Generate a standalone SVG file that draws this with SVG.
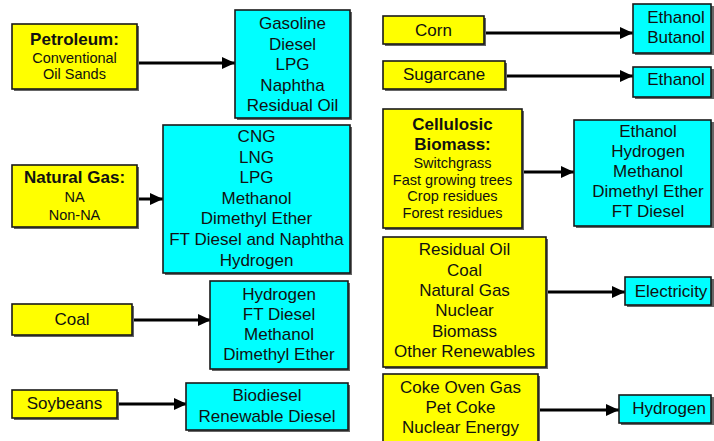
<svg xmlns="http://www.w3.org/2000/svg" width="714" height="441" viewBox="0 0 714 441">
<style>
text{font-family:"Liberation Sans",Arial,sans-serif;fill:#111;text-anchor:middle}
.t{font-size:17px}
.b{font-size:17px;font-weight:bold}
.s{font-size:14.5px}
.src{fill:#ffff00;stroke:#1a1a1a;stroke-width:1.6}
.dst{fill:#00ffff;stroke:#1a1a1a;stroke-width:1.6}
.sh{fill:#666}
.c{stroke:#000;stroke-width:3;fill:none}
</style>
<defs>
<marker id="ah" markerUnits="userSpaceOnUse" markerWidth="14" markerHeight="13" refX="13" refY="6.5" orient="auto">
<path d="M0,0.5 L13,6.5 L0,12.5 z" fill="#000"/>
</marker>
</defs>
<rect width="714" height="441" fill="#fff"/>

<g id="connectors">
<path class="c" d="M137,63 H235" marker-end="url(#ah)"/>
<path class="c" d="M137,199 H163" marker-end="url(#ah)"/>
<path class="c" d="M132,320 H211" marker-end="url(#ah)"/>
<path class="c" d="M117,404 H187" marker-end="url(#ah)"/>
<path class="c" d="M484,33 H633" marker-end="url(#ah)"/>
<path class="c" d="M505,76 H633" marker-end="url(#ah)"/>
<path class="c" d="M522,172 H574" marker-end="url(#ah)"/>
<path class="c" d="M546,292 H625" marker-end="url(#ah)"/>
<path class="c" d="M538,410 H619" marker-end="url(#ah)"/>
</g>

<g id="petroleum">
<rect class="sh" x="14" y="26" width="125" height="65"/>
<rect class="src" x="12" y="24" width="125" height="65"/>
<text class="b" x="74.5" y="45">Petroleum:</text>
<text class="s" x="74.5" y="63">Conventional</text>
<text class="s" x="74.5" y="79">Oil Sands</text>
</g>
<g id="petroleum-products">
<rect class="sh" x="237" y="12" width="115" height="108"/>
<rect class="dst" x="235" y="10" width="115" height="108"/>
<text class="t" x="292.5" y="29">Gasoline</text>
<text class="t" x="292.5" y="49.5">Diesel</text>
<text class="t" x="292.5" y="70">LPG</text>
<text class="t" x="292.5" y="90.5">Naphtha</text>
<text class="t" x="292.5" y="111">Residual Oil</text>
</g>

<g id="natural-gas">
<rect class="sh" x="14" y="167" width="125" height="62"/>
<rect class="src" x="12" y="165" width="125" height="62"/>
<text class="b" x="74.5" y="183">Natural Gas:</text>
<text class="s" x="74.5" y="202">NA</text>
<text class="s" x="74.5" y="220">Non-NA</text>
</g>
<g id="natural-gas-products">
<rect class="sh" x="165" y="127" width="187" height="148"/>
<rect class="dst" x="163" y="125" width="187" height="148"/>
<text class="t" x="256.5" y="142">CNG</text>
<text class="t" x="256.5" y="162.6">LNG</text>
<text class="t" x="256.5" y="183.2">LPG</text>
<text class="t" x="256.5" y="203.8">Methanol</text>
<text class="t" x="256.5" y="224.4">Dimethyl Ether</text>
<text class="t" x="256.5" y="245">FT Diesel and Naphtha</text>
<text class="t" x="256.5" y="265.6">Hydrogen</text>
</g>

<g id="coal">
<rect class="sh" x="14" y="306" width="120" height="31"/>
<rect class="src" x="12" y="304" width="120" height="31"/>
<text class="t" x="72" y="325">Coal</text>
</g>
<g id="coal-products">
<rect class="sh" x="212" y="283" width="138" height="88"/>
<rect class="dst" x="210" y="281" width="138" height="88"/>
<text class="t" x="279" y="300">Hydrogen</text>
<text class="t" x="279" y="320">FT Diesel</text>
<text class="t" x="279" y="340">Methanol</text>
<text class="t" x="279" y="360">Dimethyl Ether</text>
</g>

<g id="soybeans">
<rect class="sh" x="14" y="392" width="105" height="28"/>
<rect class="src" x="12" y="390" width="105" height="28"/>
<text class="t" x="64.5" y="409">Soybeans</text>
</g>
<g id="soybean-products">
<rect class="sh" x="188" y="385" width="162" height="47"/>
<rect class="dst" x="186" y="383" width="162" height="47"/>
<text class="t" x="267" y="401">Biodiesel</text>
<text class="t" x="267" y="422">Renewable Diesel</text>
</g>

<g id="corn">
<rect class="sh" x="385" y="18" width="101" height="28"/>
<rect class="src" x="383" y="16" width="101" height="28"/>
<text class="t" x="433.5" y="36">Corn</text>
</g>
<g id="corn-products">
<rect class="sh" x="635" y="6" width="79" height="49"/>
<rect class="dst" x="633" y="4" width="78" height="49"/>
<text class="t" x="676" y="23">Ethanol</text>
<text class="t" x="676" y="43">Butanol</text>
</g>

<g id="sugarcane">
<rect class="sh" x="385" y="63" width="122" height="28"/>
<rect class="src" x="383" y="61" width="122" height="28"/>
<text class="t" x="444" y="80">Sugarcane</text>
</g>
<g id="sugarcane-products">
<rect class="sh" x="635" y="69" width="79" height="30"/>
<rect class="dst" x="633" y="67" width="78" height="30"/>
<text class="t" x="676" y="85">Ethanol</text>
</g>

<g id="cellulosic-biomass">
<rect class="sh" x="385" y="111" width="139" height="119"/>
<rect class="src" x="383" y="109" width="139" height="119"/>
<text class="b" x="452.5" y="130">Cellulosic</text>
<text class="b" x="452.5" y="150">Biomass:</text>
<text class="s" x="452.5" y="168">Switchgrass</text>
<text class="s" x="452.5" y="185">Fast growing trees</text>
<text class="s" x="452.5" y="201">Crop residues</text>
<text class="s" x="452.5" y="218">Forest residues</text>
</g>
<g id="cellulosic-products">
<rect class="sh" x="576" y="122" width="138" height="106"/>
<rect class="dst" x="574" y="120" width="137" height="106"/>
<text class="t" x="648" y="137">Ethanol</text>
<text class="t" x="648" y="157">Hydrogen</text>
<text class="t" x="648" y="177">Methanol</text>
<text class="t" x="648" y="197">Dimethyl Ether</text>
<text class="t" x="648" y="217">FT Diesel</text>
</g>

<g id="power-sources">
<rect class="sh" x="385" y="239" width="163" height="130"/>
<rect class="src" x="383" y="237" width="163" height="130"/>
<text class="t" x="464.5" y="255">Residual Oil</text>
<text class="t" x="464.5" y="275.5">Coal</text>
<text class="t" x="464.5" y="296">Natural Gas</text>
<text class="t" x="464.5" y="316">Nuclear</text>
<text class="t" x="464.5" y="336.5">Biomass</text>
<text class="t" x="464.5" y="357">Other Renewables</text>
</g>
<g id="electricity">
<rect class="sh" x="627" y="279" width="87" height="28"/>
<rect class="dst" x="625" y="277" width="86" height="28"/>
<text class="t" x="671" y="297">Electricity</text>
</g>

<g id="hydrogen-sources">
<rect class="sh" x="385" y="376" width="155" height="70"/>
<rect class="src" x="383" y="374" width="155" height="70"/>
<text class="t" x="460.5" y="393">Coke Oven Gas</text>
<text class="t" x="460.5" y="413">Pet Coke</text>
<text class="t" x="460.5" y="433">Nuclear Energy</text>
</g>
<g id="hydrogen">
<rect class="sh" x="621" y="397" width="93" height="28"/>
<rect class="dst" x="619" y="395" width="92" height="28"/>
<text class="t" x="669" y="414">Hydrogen</text>
</g>
</svg>
